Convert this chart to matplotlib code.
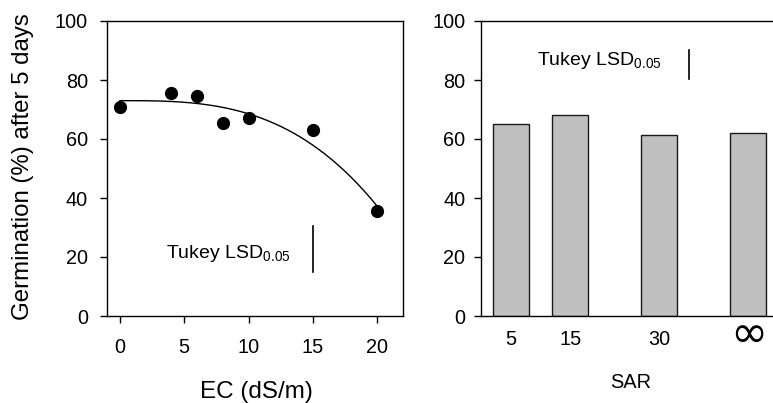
import numpy as np
import matplotlib.pyplot as plt
from matplotlib.transforms import ScaledTranslation

plt.rcParams["font.family"] = ["Liberation Sans", "DejaVu Sans"]
plt.rcParams["mathtext.fontset"] = "custom"
plt.rcParams["mathtext.rm"] = "Liberation Sans"
plt.rcParams["mathtext.it"] = "Liberation Sans"

# ---- Germination vs. salinity (EC) ----
ec = np.array([0, 4, 6, 8, 10, 15, 20])
germ_ec = np.array([71.0, 75.5, 74.7, 65.3, 67.2, 62.9, 35.5])
lsd_ec = 15.6

# ---- Germination vs. sodicity (SAR) ----
sar_pos = np.array([5, 15, 30, 45])
sar_labels = ["5", "15", "30", "\u221e"]
germ_sar = np.array([65.0, 68.2, 61.4, 62.1])
lsd_sar = 10.0

W, H = 773, 403
fig = plt.figure(figsize=(W / 100, H / 100), dpi=100)

ax1 = fig.add_axes([107 / W, 87 / H, 296 / W, 295 / H])
ax2 = fig.add_axes([481 / W, 87 / H, 297 / W, 295 / H])

for ax, ypad in ((ax1, 8.8), (ax2, 6.2)):
    ax.set_ylim(0, 100)
    ax.set_yticks([0, 20, 40, 60, 80, 100])
    for s in ax.spines.values():
        s.set_linewidth(1.0)
    ax.tick_params(axis="y", direction="out", length=5, width=1.0,
                   labelsize=14.3, pad=ypad)

# left panel: points + cubic fit
ax1.set_xlim(-1, 22)
ax1.set_xticks([0, 5, 10, 15, 20])
ax1.tick_params(axis="x", direction="out", length=5, width=1.0,
                labelsize=14.3, pad=10.5)
ax1.plot(ec, germ_ec, "o", color="black", ms=8.5)

# y = a + b*x^3 least squares fit
A = np.column_stack([np.ones_like(ec, dtype=float), ec.astype(float) ** 3])
coef, *_ = np.linalg.lstsq(A, germ_ec, rcond=None)
xs = np.linspace(0, 20, 200)
ax1.plot(xs, coef[0] + coef[1] * xs ** 3, color="black", lw=1.0)

ax1.plot([15, 15], [15.0, 15.0 + lsd_ec], color="black", lw=1.2)
ax1.text(3.6, 19.6, r"Tukey LSD$_{\mathrm{0.05}}$", fontsize=14,
         ha="left", va="baseline")

# right panel: bars
ax2.set_xlim(0, 50)
ax2.bar(sar_pos, germ_sar, width=6, color="#c0c0c0", edgecolor="#1a1a1a",
        linewidth=1.0)
ax2.set_xticks(sar_pos)
ax2.set_xticklabels(sar_labels)
ax2.tick_params(axis="x", length=0, labelsize=14.3, pad=10)
inf_lbl = ax2.get_xticklabels()[3]
inf_lbl.set_fontfamily("DejaVu Sans")
inf_lbl.set_fontsize(32)
inf_lbl.set_verticalalignment("center")
inf_lbl.set_transform(inf_lbl.get_transform()
                      + ScaledTranslation(0, -3.5 / 72, fig.dpi_scale_trans))
ax2.plot([35, 35], [80.2, 80.2 + lsd_sar], color="black", lw=1.2)
ax2.text(9.4, 85.1, r"Tukey LSD$_{\mathrm{0.05}}$", fontsize=14,
         ha="left", va="baseline")

# axis titles
fig.text(23 / W, 1 - 166.5 / H, "Germination (%) after 5 days", fontsize=17.3,
         rotation=90, ha="center", va="center")
fig.text(256 / W, 1 - 392 / H, "EC (dS/m)", fontsize=17.5,
         ha="center", va="center")
fig.text(630.5 / W, 1 - 382.5 / H, "SAR", fontsize=14.4,
         ha="center", va="center")

fig.savefig("out.png", dpi=100)
